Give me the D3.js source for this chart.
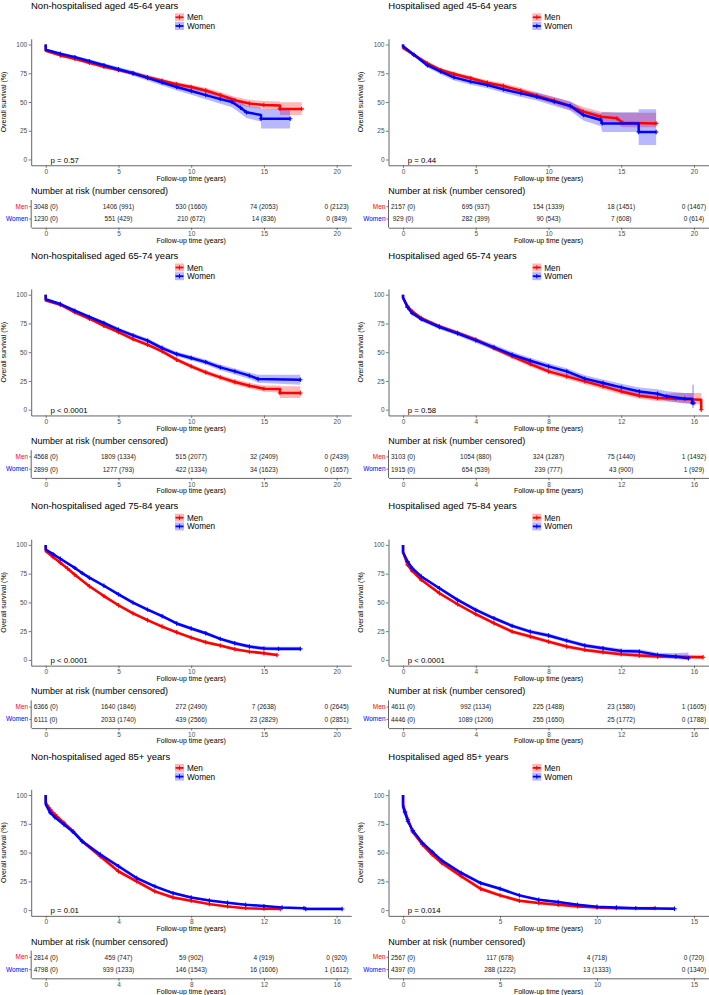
<!DOCTYPE html>
<html><head><meta charset="utf-8">
<script src="https://cdn.jsdelivr.net/npm/d3@7"></script>
<style>body{margin:0;background:#fff}svg{display:block}text{font-family:"Liberation Sans",Arial,sans-serif}</style>
</head><body><svg id="c" width="709" height="995"></svg>
<script>
// Each point: [time (years), survival %, lower CI %, upper CI %]
const men1 = [[0,100,100,100],[0,94.5,93.6,95.4],[1,90.5,89.5,91.5],[2,87.5,86.3,88.7],[3,84,82.7,85.3],[4,80.7,79.3,82.1],[5,77.7,76.2,79.2],[6,75,73.4,76.6],[7,71.5,69.8,73.2],[8,68.5,66.7,70.3],[9,65.5,63.6,67.4],[10,63,60.9,65.1],[11,60,57.7,62.3],[12,56,53.4,58.6],[13,51.5,48.5,54.5],[14,48.7,45.5,51.9],[15,47.4,44,50.8],[16.1,47,43.5,50.5],[16.1,44,38.7,49.7],[17.6,44,38.7,49.7]];
const women1 = [[0,100,100,100],[0,95.5,94.5,96.5],[1,92,90.9,93.1],[2,89,87.6,90.4],[3,85.5,83.9,87.1],[4,82,80.2,83.8],[5,78.5,76.5,80.5],[6,75,72.8,77.2],[7,71,68.5,73.5],[8,67,64.3,69.7],[9,63,60,66],[10,59.5,56.3,62.7],[11,56,52.5,59.5],[12,52.5,48.5,56.5],[12.8,50,45.5,54.5],[13.4,45,40,50],[13.8,41,36,47],[14.8,38.7,33,45],[14.8,35.5,27,44],[16.8,35.5,27,44]];
const men2 = [[0,100,100,100],[0,97,96.3,97.7],[0.75,91,89.8,92.2],[1.67,83.6,82,85.2],[2.6,77.8,76,79.6],[3.5,74.3,72.4,76.2],[4.65,70.6,68.6,72.6],[5.8,66.8,64.6,69],[6.9,63.9,61.5,66.3],[8.1,59.9,57.3,62.5],[9.2,55.5,52.6,58.4],[10.4,51.2,48,54.4],[11.5,46.5,43,50],[12.4,41.6,37.6,45.6],[13.6,37.2,33,41.5],[14.7,35.8,31,40.6],[15.1,32,28,40.7],[17.4,31.4,28,40.7]];
const women2 = [[0,100,100,100],[0,98.5,97.7,99.3],[0.75,91,89.6,92.4],[1.67,82,80,84],[2.6,76.4,74,78.8],[3.5,71.4,68.8,74],[4.65,67.7,65,70.4],[5.8,64.8,62,67.6],[6.9,61,58,64],[8.1,57.5,54.3,60.7],[9.2,54.6,51.2,58],[10.4,50.3,46.5,54.1],[11.5,46.5,42.3,50.7],[12.4,38.7,34,43.5],[13.6,34.3,29,40],[13.7,31.4,24,41],[16.2,31.4,24,41],[16.2,23.9,12.6,43.6],[17.4,23.9,12.6,43.6]];
const men3 = [[0,100,100,100],[0,95,94.4,95.6],[1,91.3,90.5,92.1],[2,84.6,83.5,85.7],[3,79.1,77.9,80.3],[4,73,71.7,74.3],[5,67.5,66.1,68.9],[6,61.4,59.9,62.9],[7,56.5,54.9,58.1],[8,50.7,49,52.4],[9,43.5,41.7,45.3],[10,37.7,35.8,39.6],[11,32.5,30.5,34.5],[12,28.1,26,30.2],[13,24.1,21.8,26.4],[14,20.9,18.4,23.4],[15,18.3,15.6,21],[16.1,18,15,21],[16.1,14.5,10.1,20.3],[17.5,14.5,10.1,20.3]];
const women3 = [[0,100,100,100],[0,96,95.3,96.7],[1,91.9,90.9,92.9],[2,86.1,84.8,87.4],[3,80.6,79.1,82.1],[4,75.4,73.8,77],[5,69.6,67.9,71.3],[6,64.6,62.8,66.4],[7,60,58.1,61.9],[8,53.6,51.6,55.6],[9,48.4,46.3,50.5],[10,44.9,42.7,47.1],[11,41.4,39.1,43.7],[12,36.8,34.4,39.2],[13,33.3,30.7,35.9],[14,29.6,26.8,32.4],[14.6,26.7,23.5,30.4],[17.5,26.1,21.7,30.4]];
const men4 = [[0,100,100,100],[0,97,96.4,97.6],[0.25,89.9,88.8,91],[0.5,85.5,84.2,86.8],[1,79.7,78.3,81.1],[2,72.5,70.9,74.1],[3,66.7,65,68.4],[4,60.9,59.1,62.7],[5,53.6,51.7,55.5],[6,46.4,44.4,48.4],[7,39.7,37.6,41.8],[8,33.3,31.1,35.5],[9,29,26.7,31.3],[10,24.6,22.2,27],[11,20.3,17.8,22.8],[12,15.9,13.3,18.5],[13,12.2,9.6,14.8],[14,10.1,7.5,13],[15,9.6,6.5,14.5],[16.4,8.7,4.3,14.5],[16.4,0,4.3,14.5]];
const women4 = [[0,100,100,100],[0,97.5,96.8,98.2],[0.25,89,87.6,90.4],[0.5,84,82.4,85.6],[1,78.8,77,80.6],[2,71.9,69.9,73.9],[3,66.4,64.2,68.6],[4,60.3,58,62.6],[5,54.2,51.8,56.6],[6,47.8,45.3,50.3],[7,42.6,40,45.2],[8,37.7,35,40.4],[9,33.3,30.5,36.1],[10,27,24,30],[11,23.2,20.1,26.3],[12,19.4,16.2,22.6],[13,15.9,12.5,19.3],[14,13.9,10,17.8],[14.5,11.6,7.5,16],[15.5,9.6,5.5,14.5],[15.9,9.6,5.5,14.5],[15.9,5.8,1.4,21.7],[16,5.8,1.4,21.7]];
const men5 = [[0,100,100,100],[0,94.5,94,95],[0.5,89.5,88.8,90.2],[1,84.5,83.6,85.4],[1.5,79.5,78.5,80.5],[2,74,72.9,75.1],[3,64,62.8,65.2],[4,55.5,54.2,56.8],[5,47.5,46.2,48.8],[6,40.5,39.2,41.8],[7,34.5,33.2,35.8],[8,29,27.7,30.3],[9,24,22.7,25.3],[10,19.4,18.1,20.7],[11,15.4,14.1,16.7],[12,12.5,11.2,13.8],[13,9.3,8,10.6],[14,7.2,5.9,8.5],[15,5.8,4.5,7.1],[15.9,4.3,3,5.6]];
const women5 = [[0,100,100,100],[0,96,95.5,96.5],[0.5,92,91.4,92.6],[1,88,87.2,88.8],[2,80,78.9,81.1],[2.5,75.5,74.3,76.7],[3,71.5,70.3,72.7],[4,64.5,63.2,65.8],[5,57,55.7,58.3],[6,49.8,48.4,51.2],[7,43.7,42.3,45.1],[8,38,36.6,39.4],[9,31.7,30.3,33.1],[10,27.3,25.8,28.8],[11,23.2,21.7,24.7],[12,18.3,16.8,19.8],[13,14.5,13,16],[14,11.6,10,13.2],[15,10,8.4,11.6],[16,9.6,7.8,11.4],[17.5,9.6,7.8,11.4]];
const men6 = [[0,100,100,100],[0,93.6,92.9,94.3],[0.25,82.6,81.5,83.7],[0.5,77.4,76.2,78.6],[1,69.6,68.3,70.9],[2,58,56.6,59.4],[3,48.4,46.9,49.9],[4,39.7,38.1,41.3],[5,31.9,30.3,33.5],[6,24.6,23,26.2],[7,20.3,18.7,21.9],[8,15.9,14.3,17.5],[9,11.6,10,13.2],[10,8.7,7.1,10.3],[11,6.7,5.1,8.3],[12,4.9,3.3,6.5],[13,3.8,2.2,5.4],[14,2.9,1.3,4.5],[16.5,2.3,0.8,4.5]];
const women6 = [[0,100,100,100],[0,93.6,92.9,94.3],[0.25,85.5,84.4,86.6],[0.5,79.7,78.5,80.9],[1,72.5,71.2,73.8],[2,62.3,60.9,63.7],[3,52.2,50.7,53.7],[4,43.5,41.9,45.1],[5,36.2,34.6,37.8],[6,29.6,28,31.2],[7,24.6,23,26.2],[8,21.2,19.5,22.9],[9,16.8,15.1,18.5],[10,12.5,10.8,14.2],[11,10.1,8.3,11.9],[12,7.8,6,9.6],[13,7.2,5.2,9.2],[14,4.3,2.3,6.3],[15,2.9,0.8,6],[15.7,1.4,0,6.5]];
const men7 = [[0,100,100,100],[0,93.3,92.3,94.3],[0.25,87.5,86.3,88.7],[0.5,83.1,81.7,84.5],[1,75.9,74.3,77.5],[1.5,68.6,66.9,70.3],[2,59.9,58.1,61.7],[3,46.8,44.9,48.7],[4,33.7,31.9,35.5],[5,25,23.3,26.7],[6,16.3,14.8,17.8],[7,11,9.6,12.4],[8,8.1,6.8,9.4],[9,5.2,4.1,6.3],[10,3.2,2.3,4.1],[11,1.7,1,2.4],[12,1.2,0.6,1.8],[12.9,0.9,0.4,1.4]];
const women7 = [[0,100,100,100],[0,92,91.2,92.8],[0.25,84.6,83.6,85.6],[0.5,80.8,79.7,81.9],[1,74.4,73.2,75.6],[1.5,68,66.7,69.3],[2,59.9,58.5,61.3],[3,48.3,46.8,49.8],[4,38.1,36.6,39.6],[5,27.9,26.5,29.3],[6,20.6,19.3,21.9],[7,14.8,13.6,16],[8,11,9.9,12.1],[9,8.4,7.4,9.4],[10,6.4,5.5,7.3],[11,4.7,3.9,5.5],[12,3.5,2.7,4.3],[13,2.3,1.6,3],[14.2,1.7,1,2.6],[14.3,0.9,0.2,2.4],[16.3,0.9,0.2,2.4]];
const men8 = [[0,100,100,100],[0,91.9,90.8,93],[0.1,86,84.7,87.3],[0.25,78.8,77.2,80.4],[0.5,68,66.2,69.8],[1,57,55.1,58.9],[1.5,48.3,46.3,50.3],[2,41,39,43],[3,29.4,27.5,31.3],[4,18.6,16.9,20.3],[5,12.8,11.3,14.3],[6,8.1,6.8,9.4],[7,6.1,4.9,7.3],[8,4.7,3.6,5.8],[9,3.2,2.2,4.2],[10,2.3,1.4,3.2],[11,1.7,0.9,2.6],[13,1.7,0.6,3.2]];
const women8 = [[0,100,100,100],[0,90,89.1,90.9],[0.1,84.6,83.5,85.7],[0.25,77.3,76,78.6],[0.5,69.2,67.8,70.6],[1,58.4,56.9,59.9],[1.5,50.6,49,52.2],[2,43,41.4,44.6],[3,32.3,30.8,33.8],[4,23.5,22,25],[5,18.6,17.2,20],[6,12.8,11.5,14.1],[7,9,7.9,10.1],[8,7,6,8],[9,4.7,3.9,5.5],[10,2.9,2.2,3.6],[11,2.3,1.6,3],[12,1.7,1,2.6],[14,1.2,0.3,2.4]];

const titles = ["Non-hospitalised aged 45-64 years","Hospitalised aged 45-64 years","Non-hospitalised aged 65-74 years","Hospitalised aged 65-74 years","Non-hospitalised aged 75-84 years","Hospitalised aged 75-84 years","Non-hospitalised aged 85+ years","Hospitalised aged 85+ years"];
const pValues = ["p = 0.57","p = 0.44","p < 0.0001","p = 0.58","p < 0.0001","p < 0.0001","p = 0.01","p = 0.014"];
const xMaxes = [20,20,20,16,20,16,16,15];
const xTicks20 = [0,5,10,15,20];
const xTicks16 = [0,4,8,12,16];
const xTicks15 = [0,5,10,15];
const yTicks = [0,25,50,75,100];
const groups = ["Men","Women"];

const riskMen1 = ["3048 (0)","1406 (991)","530 (1660)","74 (2053)","0 (2123)"];
const riskWomen1 = ["1230 (0)","551 (429)","210 (672)","14 (836)","0 (849)"];
const riskMen2 = ["2157 (0)","695 (937)","154 (1339)","18 (1451)","0 (1467)"];
const riskWomen2 = ["929 (0)","282 (399)","90 (543)","7 (608)","0 (614)"];
const riskMen3 = ["4568 (0)","1809 (1334)","515 (2077)","32 (2409)","0 (2439)"];
const riskWomen3 = ["2899 (0)","1277 (793)","422 (1334)","34 (1623)","0 (1657)"];
const riskMen4 = ["3103 (0)","1054 (880)","324 (1287)","75 (1440)","1 (1492)"];
const riskWomen4 = ["1915 (0)","654 (539)","239 (777)","43 (900)","1 (929)"];
const riskMen5 = ["6366 (0)","1640 (1846)","272 (2490)","7 (2638)","0 (2645)"];
const riskWomen5 = ["6111 (0)","2033 (1740)","439 (2566)","23 (2829)","0 (2851)"];
const riskMen6 = ["4611 (0)","992 (1134)","225 (1488)","23 (1580)","1 (1605)"];
const riskWomen6 = ["4446 (0)","1089 (1206)","255 (1650)","25 (1772)","0 (1788)"];
const riskMen7 = ["2814 (0)","459 (747)","59 (902)","4 (919)","0 (920)"];
const riskWomen7 = ["4798 (0)","939 (1233)","146 (1543)","16 (1606)","1 (1612)"];
const riskMen8 = ["2567 (0)","117 (678)","4 (718)","0 (720)"];
const riskWomen8 = ["4397 (0)","288 (1222)","13 (1333)","0 (1340)"];

const panels = [
 {men:men1,women:women1,ticks:xTicks20,rm:riskMen1,rw:riskWomen1},
 {men:men2,women:women2,ticks:xTicks20,rm:riskMen2,rw:riskWomen2},
 {men:men3,women:women3,ticks:xTicks20,rm:riskMen3,rw:riskWomen3},
 {men:men4,women:women4,ticks:xTicks16,rm:riskMen4,rw:riskWomen4},
 {men:men5,women:women5,ticks:xTicks20,rm:riskMen5,rw:riskWomen5},
 {men:men6,women:women6,ticks:xTicks16,rm:riskMen6,rw:riskWomen6},
 {men:men7,women:women7,ticks:xTicks16,rm:riskMen7,rw:riskWomen7},
 {men:men8,women:women8,ticks:xTicks15,rm:riskMen8,rw:riskWomen8}
];
const colors = {Men:"#FF0000", Women:"#0000FF"};
const fills = {Men:"rgba(255,0,0,0.28)", Women:"rgba(0,0,255,0.28)"};

const svg = d3.select("#c");
const axisColor = "#555";
const tickColor = "#4D4D4D";
const FF = '"Liberation Sans",Arial,sans-serif';

panels.forEach((p,i) => {
  const col = i % 2, row = Math.floor(i/2);
  const ox = col ? 357.3 : 0, oy = row * 250.2;
  const g = svg.append("g");
  const xMax = xMaxes[i];
  const x = d3.scaleLinear().domain([-0.05*xMax, 1.05*xMax]).range([ox+31.2, ox+351.2]);
  const y = d3.scaleLinear().domain([-5,105]).range([oy+165.25, oy+38.75]);

  g.append("text").attr("x", ox+31).attr("y", oy+8.9).attr("font-size", 9.5).attr("fill","#000").text(titles[i]);

  // legend
  groups.forEach((k,j) => {
    const cy = oy + 17.3 + j*8.7;
    g.append("rect").attr("x", ox+175).attr("y", cy-4).attr("width", 9).attr("height", 8).attr("fill", fills[k]);
    g.append("line").attr("x1", ox+175.5).attr("x2", ox+183.5).attr("y1", cy).attr("y2", cy).attr("stroke", colors[k]).attr("stroke-width", 1.8);
    g.append("line").attr("x1", ox+179.5).attr("x2", ox+179.5).attr("y1", cy-2.2).attr("y2", cy+2.2).attr("stroke", colors[k]).attr("stroke-width", 1);
    g.append("text").attr("x", ox+187).attr("y", cy+3).attr("font-size", 8.2).attr("fill","#000").text(k);
  });

  // bands, lines, censor marks
  const area = d3.area().x(d=>x(d[0])).y0(d=>y(d[2])).y1(d=>y(d[3]));
  const line = d3.line().x(d=>x(d[0])).y(d=>y(d[1]));
  [["Men",p.men],["Women",p.women]].forEach(([k,data]) => {
    g.append("path").attr("d", area(data)).attr("fill", fills[k]).attr("stroke","none");
  });
  [["Men",p.men],["Women",p.women]].forEach(([k,data]) => {
    g.append("path").attr("d", line(data)).attr("fill","none").attr("stroke", colors[k]).attr("stroke-width", 2.5).attr("stroke-linejoin","round");
    const marks = data.filter((d,idx) => d[0] > 0 && !(idx+1 < data.length && data[idx+1][0] === d[0]));
    marks.forEach(d => {
      const cx = x(d[0]), cy = y(d[1]);
      g.append("path").attr("d", `M${cx-2.2},${cy}H${cx+2.2}M${cx},${cy-2.2}V${cy+2.2}`).attr("stroke", colors[k]).attr("stroke-width", 1.1);
    });
  });

  // axes
  const ya = g.append("g").attr("transform", `translate(${ox+31.2},0)`).call(d3.axisLeft(y).tickValues(yTicks).tickSize(2.5).tickSizeOuter(0).tickPadding(1.5));
  const xa = g.append("g").attr("transform", `translate(0,${oy+165.25})`).call(d3.axisBottom(x).tickValues(p.ticks).tickSize(2.5).tickSizeOuter(0).tickPadding(1.5));
  [ya, xa].forEach(a => {
    a.select(".domain").attr("stroke", axisColor).attr("stroke-width", 0.9);
    a.selectAll(".tick line").attr("stroke", axisColor).attr("stroke-width", 0.8);
    a.selectAll(".tick text").attr("font-size", 6.5).attr("fill", tickColor).attr("font-family", FF);
  });

  g.append("text").attr("transform", `translate(${ox+6},${y(50)}) rotate(-90)`).attr("text-anchor","middle").attr("font-size", 7).attr("fill","#000").text("Overall survival (%)");
  g.append("text").attr("x", x(xMax/2)).attr("y", oy+180.5).attr("text-anchor","middle").attr("font-size", 7).attr("fill","#000").text("Follow-up time (years)");
  g.append("text").attr("x", ox+50.5).attr("y", oy+162.6).attr("font-size", 7.8).attr("fill","#000").text(pValues[i]);

  // risk table
  g.append("text").attr("x", ox+31).attr("y", oy+194).attr("font-size", 9).attr("fill","#000").text("Number at risk (number censored)");
  const ty = d3.scaleBand().domain(groups).range([oy+200.5, oy+225.2]);
  const rowY = {Men: oy+206.7, Women: oy+219};
  const tya = g.append("g").attr("transform", `translate(${ox+31.2},0)`).call(d3.axisLeft(ty).tickSize(2).tickSizeOuter(0).tickPadding(1));
  tya.select(".domain").attr("stroke", axisColor).attr("stroke-width", 0.9).attr("d", `M0,${oy+200}V${oy+227.7}`);
  tya.selectAll(".tick").attr("transform", d => `translate(0,${rowY[d]})`);
  tya.selectAll(".tick line").attr("stroke", axisColor).attr("stroke-width", 0.8);
  tya.selectAll(".tick text").attr("font-size", 6.5).attr("fill", d => colors[d]).attr("font-family", FF);
  const txa = g.append("g").attr("transform", `translate(0,${oy+227.7})`).call(d3.axisBottom(x).tickValues(p.ticks).tickSize(2.5).tickSizeOuter(0).tickPadding(1.5));
  txa.select(".domain").attr("stroke", axisColor).attr("stroke-width", 0.9);
  txa.selectAll(".tick line").attr("stroke", axisColor).attr("stroke-width", 0.8);
  txa.selectAll(".tick text").attr("font-size", 6.5).attr("fill", tickColor).attr("font-family", FF);
  [["Men",p.rm],["Women",p.rw]].forEach(([k,vals]) => {
    vals.forEach((v,j) => {
      g.append("text").attr("x", x(p.ticks[j])).attr("y", rowY[k]+2.3).attr("text-anchor","middle").attr("font-size", 6.5).attr("fill","#222").text(v);
    });
  });
  g.append("text").attr("x", x(xMax/2)).attr("y", oy+243).attr("text-anchor","middle").attr("font-size", 7).attr("fill","#000").text("Follow-up time (years)");
});
</script></body></html>
